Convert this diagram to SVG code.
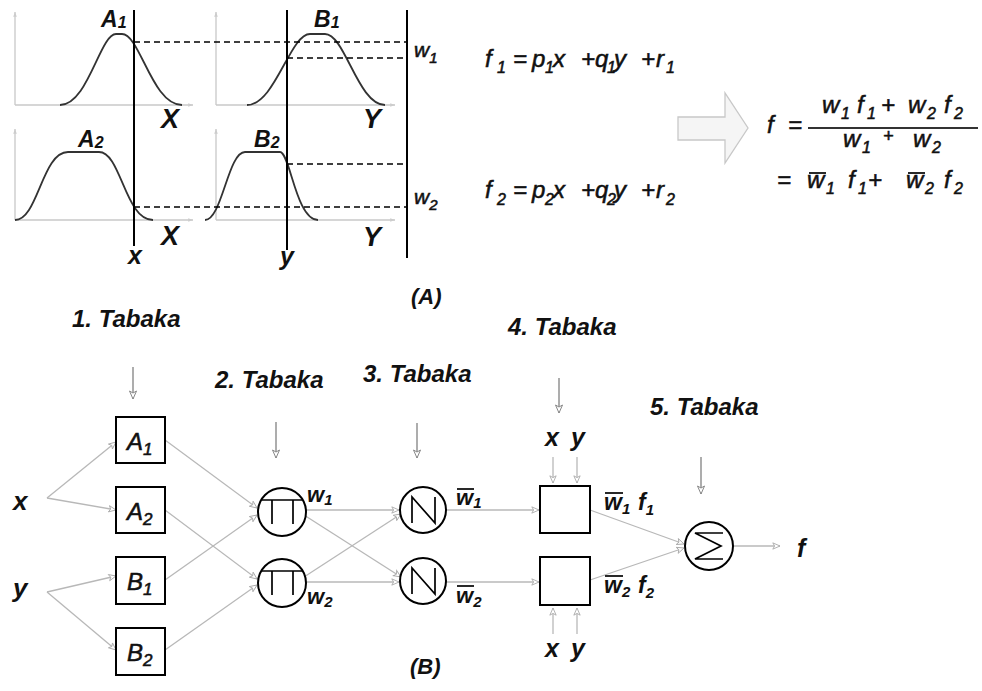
<svg xmlns="http://www.w3.org/2000/svg" width="982" height="691" viewBox="0 0 982 691">
<style>
text{font-family:"Liberation Sans",Arial,sans-serif;font-style:italic;fill:#111}
.b{font-weight:bold}
.sb{stroke:#111;stroke-width:0.55}
.ax{stroke:#c8c8c8;stroke-width:1.3;fill:none}
.cv{stroke:#333;stroke-width:1.8;fill:none}
.vl{stroke:#000;stroke-width:2}
.ds{stroke:#000;stroke-width:1.6;stroke-dasharray:6 4}
.cn{stroke:#b8b8b8;stroke-width:1.3;fill:none;marker-end:url(#ah)}
.la{stroke:#8a8a8a;stroke-width:1.4;fill:none;marker-end:url(#ah2)}
.nd{fill:#fff;stroke:#000;stroke-width:2}
.sy{fill:none;stroke:#000;stroke-width:1.7}
.ov{stroke:#111;stroke-width:1.8}
</style>
<defs>
<marker id="ah" viewBox="0 0 10 10" refX="9" refY="5" markerWidth="9" markerHeight="9" markerUnits="userSpaceOnUse" orient="auto"><path d="M1,1.5 L9,5 L1,8.5 L3,5 Z" fill="#fff" stroke="#aaa" stroke-width="1"/></marker>
<marker id="ah2" viewBox="0 0 10 10" refX="9" refY="5" markerWidth="10" markerHeight="10" markerUnits="userSpaceOnUse" orient="auto"><path d="M1,1.5 L9,5 L1,8.5 L3,5 Z" fill="#fff" stroke="#888" stroke-width="1"/></marker>
<marker id="aa" viewBox="0 0 10 10" refX="9" refY="5" markerWidth="6" markerHeight="6" markerUnits="userSpaceOnUse" orient="auto"><path d="M1,2 L9,5 L1,8 Z" fill="#ccc"/></marker>
</defs>

<!-- (A) membership plots -->
<g id="plotA1">
<line class="ax" x1="15" y1="105" x2="193" y2="105" marker-end="url(#aa)"/>
<line class="ax" x1="15" y1="105" x2="15" y2="12" marker-end="url(#aa)"/>
<path class="cv" d="M60,105 C88,105 100,34 116,34 L122,34 C140,34 152,105 182,105"/>
<text class="b" x="101" y="27" font-size="23">A<tspan font-size="16" dy="1">1</tspan></text>
<text class="b" x="161" y="128" font-size="27">X</text>
</g>
<g id="plotA2">
<line class="ax" x1="15" y1="220" x2="193" y2="220" marker-end="url(#aa)"/>
<line class="ax" x1="15" y1="220" x2="15" y2="129" marker-end="url(#aa)"/>
<path class="cv" d="M15,220 C38,220 42,152 68,152 L99,152 C121,152 125,220 153,220"/>
<text class="b" x="78" y="147" font-size="23">A<tspan font-size="16" dy="1">2</tspan></text>
<text class="b" x="161" y="245" font-size="27">X</text>
</g>
<g id="plotB1">
<line class="ax" x1="216" y1="105" x2="395" y2="105" marker-end="url(#aa)"/>
<line class="ax" x1="216" y1="105" x2="216" y2="12" marker-end="url(#aa)"/>
<path class="cv" d="M247,105 C275,105 290,34 310,34 L325,34 C345,34 358,105 385,105"/>
<text class="b" x="314" y="27" font-size="23">B<tspan font-size="16" dy="1">1</tspan></text>
<text class="b" x="363" y="128" font-size="27">Y</text>
</g>
<g id="plotB2">
<line class="ax" x1="216" y1="220" x2="395" y2="220" marker-end="url(#aa)"/>
<line class="ax" x1="216" y1="220" x2="216" y2="129" marker-end="url(#aa)"/>
<path class="cv" d="M205,220 C222,220 228,152 245,152 L280,152 C290,152 296,220 318,220"/>
<text class="b" x="254" y="147" font-size="23">B<tspan font-size="16" dy="1">2</tspan></text>
<text class="b" x="363" y="246" font-size="27">Y</text>
</g>
<g id="cuts">
<line class="vl" x1="134" y1="10" x2="134" y2="246"/>
<line class="vl" x1="287" y1="10" x2="287" y2="250"/>
<line class="vl" x1="407" y1="10" x2="407" y2="258"/>
<line class="ds" x1="134" y1="42" x2="407" y2="42"/>
<line class="ds" x1="287" y1="58" x2="407" y2="58"/>
<line class="ds" x1="287" y1="164" x2="407" y2="164"/>
<line class="ds" x1="134" y1="207" x2="407" y2="207"/>
<text class="b" x="128" y="264" font-size="25">x</text>
<text class="b" x="280" y="265" font-size="25">y</text>
<text class="sb" x="414" y="57" font-size="21">w<tspan font-size="15" dy="6">1</tspan></text>
<text class="sb" x="414" y="204" font-size="21">w<tspan font-size="15" dy="6">2</tspan></text>
</g>
<g id="rules" font-size="24" class="sb">
<text y="67"><tspan x="485">f</tspan><tspan x="497" y="73" font-size="16">1</tspan><tspan x="513" y="67">=</tspan><tspan x="532">p</tspan><tspan x="545" y="73" font-size="16">1</tspan><tspan x="553" y="67">x</tspan><tspan x="581">+</tspan><tspan x="595">q</tspan><tspan x="607" y="73" font-size="16">1</tspan><tspan x="614" y="67">y</tspan><tspan x="641">+</tspan><tspan x="656">r</tspan><tspan x="666" y="73" font-size="16">1</tspan></text>
<text y="198"><tspan x="485">f</tspan><tspan x="497" y="205" font-size="16">2</tspan><tspan x="513" y="198">=</tspan><tspan x="532">p</tspan><tspan x="545" y="205" font-size="16">2</tspan><tspan x="553" y="198">x</tspan><tspan x="581">+</tspan><tspan x="595">q</tspan><tspan x="607" y="205" font-size="16">2</tspan><tspan x="614" y="198">y</tspan><tspan x="641">+</tspan><tspan x="656">r</tspan><tspan x="666" y="205" font-size="16">2</tspan></text>
</g>
<g id="bigArrow">
<path d="M678,117 L725,117 L725,93 L748,128 L725,163 L725,140 L678,140 Z" fill="#f5f5f5" stroke="#c8c8c8" stroke-width="1.3"/>
</g>
<g id="output" font-size="24">
<text class="sb" x="767" y="133">f</text>
<text class="sb" x="788" y="133">=</text>
<line x1="808" y1="128" x2="978" y2="128" stroke="#333" stroke-width="2.2"/>
<text class="sb" y="113"><tspan x="822">w</tspan><tspan x="841" y="119" font-size="16">1</tspan><tspan x="857" y="113">f</tspan><tspan x="867" y="119" font-size="16">1</tspan><tspan x="881" y="113">+</tspan><tspan x="908">w</tspan><tspan x="927" y="119" font-size="16">2</tspan><tspan x="944" y="113">f</tspan><tspan x="954" y="119" font-size="16">2</tspan></text>
<text class="sb" y="147"><tspan x="843">w</tspan><tspan x="862" y="153" font-size="16">1</tspan><tspan x="883" y="142" font-size="18">+</tspan><tspan x="913" y="147">w</tspan><tspan x="932" y="153" font-size="16">2</tspan></text>
<text class="sb" y="188"><tspan x="777">=</tspan><tspan x="807">w</tspan><tspan x="826" y="194" font-size="16">1</tspan><tspan x="848" y="188">f</tspan><tspan x="858" y="194" font-size="16">1</tspan><tspan x="868" y="188">+</tspan><tspan x="906">w</tspan><tspan x="925" y="194" font-size="16">2</tspan><tspan x="944" y="188">f</tspan><tspan x="954" y="194" font-size="16">2</tspan></text>
<line class="ov" x1="809" y1="173" x2="826" y2="173"/>
<line class="ov" x1="908" y1="173" x2="925" y2="173"/>
</g>
<text class="b" x="411" y="304" font-size="22">(A)</text>

<!-- (B) network -->
<g id="connectors">
<line class="cn" x1="47" y1="498" x2="116" y2="442"/>
<line class="cn" x1="47" y1="498" x2="116" y2="510"/>
<line class="cn" x1="47" y1="592" x2="116" y2="576"/>
<line class="cn" x1="47" y1="592" x2="116" y2="650"/>
<line class="cn" x1="165" y1="440" x2="257" y2="508"/>
<line class="cn" x1="165" y1="510" x2="257" y2="579"/>
<line class="cn" x1="165" y1="580" x2="257" y2="515"/>
<line class="cn" x1="165" y1="650" x2="257" y2="585"/>
<line class="cn" x1="306" y1="510" x2="399" y2="510"/>
<line class="cn" x1="304" y1="515" x2="401" y2="577"/>
<line class="cn" x1="304" y1="577" x2="401" y2="514"/>
<line class="cn" x1="306" y1="582" x2="399" y2="582"/>
<line class="cn" x1="446" y1="510" x2="539" y2="510"/>
<line class="cn" x1="446" y1="582" x2="539" y2="582"/>
<line class="cn" x1="590" y1="510" x2="684" y2="544"/>
<line class="cn" x1="590" y1="580" x2="684" y2="548"/>
<line class="cn" x1="733" y1="546" x2="780" y2="546"/>
<line class="la" x1="133" y1="367" x2="133" y2="399"/>
<line class="la" x1="276" y1="422" x2="276" y2="458"/>
<line class="la" x1="417" y1="423" x2="417" y2="458"/>
<line class="la" x1="559" y1="378" x2="559" y2="413"/>
<line class="la" x1="701" y1="457" x2="701" y2="494"/>
<line class="cn" x1="553" y1="457" x2="553" y2="483"/>
<line class="cn" x1="577" y1="457" x2="577" y2="483"/>
<line class="cn" x1="553" y1="634" x2="553" y2="608"/>
<line class="cn" x1="577" y1="634" x2="577" y2="608"/>
</g>
<g id="inputs">
<text class="b" x="13" y="510" font-size="26">x</text>
<text class="b" x="13" y="597" font-size="26">y</text>
</g>
<g id="A1n"><rect class="nd" x="116" y="417" width="49" height="46"/><text class="sb" x="127" y="450" font-size="24">A<tspan font-size="17" dy="5">1</tspan></text></g>
<g id="A2n"><rect class="nd" x="116" y="487" width="49" height="46"/><text class="sb" x="127" y="520" font-size="24">A<tspan font-size="17" dy="5">2</tspan></text></g>
<g id="B1n"><rect class="nd" x="116" y="557" width="49" height="47"/><text class="sb" x="127" y="590" font-size="24">B<tspan font-size="17" dy="5">1</tspan></text></g>
<g id="B2n"><rect class="nd" x="116" y="628" width="49" height="47"/><text class="sb" x="127" y="661" font-size="24">B<tspan font-size="17" dy="5">2</tspan></text></g>
<g id="P1"><circle class="nd" cx="282" cy="512" r="24"/><path class="sy" d="M262,500 H302 M272,500 V524 M293,500 V524"/></g>
<g id="P2"><circle class="nd" cx="282" cy="583" r="24"/><path class="sy" d="M262,571 H302 M272,571 V595 M293,571 V595"/></g>
<g id="N1"><circle class="nd" cx="423" cy="510" r="23"/><path class="sy" d="M412,523 V497 L435,523 V497"/></g>
<g id="N2"><circle class="nd" cx="423" cy="581" r="23"/><path class="sy" d="M412,594 V568 L435,594 V568"/></g>
<g id="C1"><rect class="nd" x="540" y="486" width="50" height="47"/></g>
<g id="C2"><rect class="nd" x="540" y="557" width="50" height="48"/></g>
<g id="S"><circle class="nd" cx="709" cy="546" r="24"/><path class="sy" d="M723,533 H695 L721,546 L695,559 H723"/></g>
<g id="labels">
<text class="b" x="307" y="502" font-size="22">w<tspan font-size="15" dy="3">1</tspan></text>
<text class="b" x="307" y="604" font-size="22">w<tspan font-size="15" dy="3">2</tspan></text>
<text class="b" x="456" y="505" font-size="22">w<tspan font-size="15" dy="3">1</tspan></text>
<line class="ov" x1="457" y1="489" x2="474" y2="489"/>
<text class="b" x="456" y="603" font-size="22">w<tspan font-size="15" dy="4">2</tspan></text>
<line class="ov" x1="457" y1="586" x2="474" y2="586"/>
<text class="b" x="604" y="510" font-size="23">w<tspan font-size="15" dy="4">1</tspan><tspan x="638" dy="-4">f</tspan><tspan font-size="15" dy="5">1</tspan></text>
<line class="ov" x1="605" y1="493" x2="623" y2="493"/>
<text class="b" x="604" y="593" font-size="23">w<tspan font-size="15" dy="4">2</tspan><tspan x="638" dy="-4">f</tspan><tspan font-size="15" dy="5">2</tspan></text>
<line class="ov" x1="605" y1="576" x2="623" y2="576"/>
<text class="b" x="797" y="557" font-size="25">f</text>
<text class="b" font-size="25" y="446"><tspan x="545">x</tspan><tspan x="571">y</tspan></text>
<text class="b" font-size="25" y="657"><tspan x="545">x</tspan><tspan x="571">y</tspan></text>
</g>
<g id="layers" font-size="24">
<text class="b" x="72" y="327">1. Tabaka</text>
<text class="b" x="215" y="388">2. Tabaka</text>
<text class="b" x="363" y="382">3. Tabaka</text>
<text class="b" x="508" y="335">4. Tabaka</text>
<text class="b" x="650" y="415">5. Tabaka</text>
<text class="b" x="410" y="674" font-size="22">(B)</text>
</g>
</svg>
